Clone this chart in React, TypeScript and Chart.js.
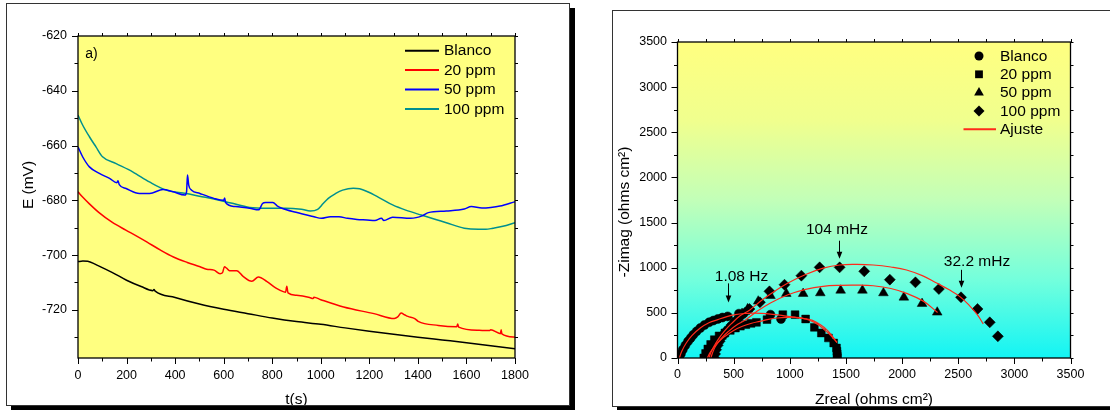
import React, { useEffect, useRef } from 'react';
import { Chart, registerables } from 'chart.js';

Chart.register(...registerables);

const FONT = "'Liberation Sans', Arial, Helvetica, sans-serif";

/* ---------------- a) open-circuit potential vs time ---------------- */
const timeTicks = [0, 200, 400, 600, 800, 1000, 1200, 1400, 1600, 1800];
const potentialTicks = [-720, -700, -680, -660, -640, -620];

const blancoT = [0, 20, 40, 70, 100, 140, 200, 260, 308, 313, 318, 400, 500, 600, 700, 800, 900, 1000, 1100, 1200, 1300, 1400, 1500, 1600, 1700, 1800];
const blancoE = [-702.4, -702.2, -702.3, -703.3, -704.6, -706.3, -709.2, -711.5, -713.0, -712.6, -713.2, -715.5, -717.9, -719.8, -721.4, -723.0, -724.3, -725.3, -726.6, -727.8, -728.9, -730.0, -731.0, -732.0, -733.1, -734.2];

const ppm20T = [0, 20, 47, 88, 140, 197, 240, 283, 340, 393, 450, 503, 530, 560, 585, 595, 603, 612, 624, 654, 680, 716, 743, 777, 814, 833, 855, 860, 865, 900, 954, 968, 972, 1000, 1094, 1219, 1303, 1317, 1331, 1345, 1359, 1387, 1401, 1484, 1560, 1564, 1568, 1652, 1694, 1700, 1740, 1743, 1746, 1800];
const ppm20E = [-676.9, -678.9, -681.3, -684.6, -688.0, -690.9, -693.0, -695.2, -698.2, -700.7, -702.7, -704.3, -705.2, -705.5, -706.8, -706.5, -704.3, -704.8, -705.7, -705.7, -707.8, -709.6, -708.0, -709.6, -712.0, -712.9, -713.6, -711.4, -713.8, -714.7, -715.5, -715.9, -715.4, -716.3, -719.0, -721.4, -723.2, -722.6, -721.2, -721.8, -722.4, -723.2, -724.2, -725.7, -726.2, -725.2, -726.3, -727.5, -727.6, -727.3, -728.7, -727.3, -728.8, -730.0];

const ppm50T = [0, 19, 47, 88, 130, 160, 165, 170, 198, 253, 295, 350, 392, 440, 447, 451, 456, 468, 502, 560, 600, 604, 608, 648, 707, 744, 760, 773, 803, 820, 840, 898, 972, 1002, 1040, 1075, 1110, 1149, 1190, 1223, 1250, 1260, 1296, 1370, 1420, 1443, 1517, 1591, 1620, 1664, 1700, 1738, 1800];
const ppm50E = [-660.5, -664.1, -667.8, -670.2, -672.0, -673.6, -672.9, -674.3, -675.7, -677.5, -677.5, -676.1, -676.9, -678.1, -677.0, -670.8, -674.5, -676.3, -677.5, -679.3, -680.0, -679.2, -680.8, -682.3, -682.9, -683.5, -681.2, -680.8, -680.8, -682.0, -682.9, -684.4, -686.0, -686.6, -686.0, -686.0, -686.6, -687.0, -687.2, -687.4, -686.6, -687.4, -686.2, -686.6, -685.6, -684.5, -683.9, -683.2, -682.3, -682.8, -682.6, -682.1, -680.5];

const ppm100T = [0, 19, 47, 74, 101, 157, 225, 294, 363, 445, 500, 560, 630, 707, 780, 854, 920, 957, 987, 1010, 1031, 1060, 1090, 1134, 1160, 1193, 1240, 1296, 1350, 1414, 1470, 1517, 1591, 1650, 1680, 1709, 1750, 1800];
const ppm100E = [-648.9, -652.5, -656.8, -660.5, -664.1, -666.6, -669.6, -673.3, -676.3, -677.5, -678.5, -679.5, -681.0, -682.6, -682.9, -682.9, -683.3, -683.9, -683.3, -681.2, -679.3, -677.6, -676.3, -675.6, -675.8, -676.9, -679.0, -681.7, -683.6, -685.4, -686.9, -688.2, -690.2, -690.6, -690.6, -690.2, -689.5, -688.2];

const potentialSeries = [
  { label: 'Blanco', t: blancoT, e: blancoE, color: '#000000' },
  { label: '20 ppm', t: ppm20T, e: ppm20E, color: '#ff0000' },
  { label: '50 ppm', t: ppm50T, e: ppm50E, color: '#0000ff' },
  { label: '100 ppm', t: ppm100T, e: ppm100E, color: '#008f8f' },
];

/* ---------------- Nyquist diagram ---------------- */
const zTicks = [0, 500, 1000, 1500, 2000, 2500, 3000, 3500];

// measured impedance, [Zreal, -Zimag] in ohms cm2
const blancoZ = [[16, 0], [30, 45], [47, 92], [70, 140], [94, 185], [118, 222], [141, 258], [170, 295], [203, 332], [240, 365], [281, 395], [320, 415], [359, 432], [400, 448], [447, 461], [547, 491], [828, 480], [922, 432]];
const ppm20Z = [[234, 0], [250, 50], [270, 100], [295, 150], [328, 203], [370, 245], [422, 277], [470, 305], [516, 332], [560, 352], [609, 369], [655, 383], [703, 395], [797, 425], [938, 480], [1047, 480], [1141, 432], [1219, 340], [1281, 277], [1344, 222], [1391, 166], [1416, 111], [1420, 75], [1422, 45], [1423, 18], [1423, 0]];
const ppm50Z = [[297, 0], [305, 30], [312, 55], [325, 100], [344, 148], [365, 195], [391, 240], [420, 287], [453, 332], [490, 390], [531, 443], [575, 492], [625, 543], [719, 628], [828, 690], [969, 713], [1119, 713], [1272, 720], [1453, 749], [1647, 749], [1834, 720], [2016, 672], [2178, 602], [2313, 506]];
const ppm100Z = [[328, 0], [335, 45], [344, 92], [358, 140], [375, 185], [397, 232], [422, 277], [452, 323], [484, 369], [520, 415], [562, 461], [600, 500], [641, 543], [734, 617], [819, 738], [953, 812], [1103, 912], [1266, 1004], [1444, 1004], [1663, 960], [1891, 868], [2119, 838], [2328, 764], [2525, 672], [2672, 543], [2781, 395], [2853, 240]];

// equivalent-circuit fits
const blancoFit = [[16, 0], [40, 80], [78, 166], [130, 250], [203, 332], [280, 390], [359, 425], [440, 458], [516, 480], [600, 493], [672, 498], [750, 495], [828, 487], [910, 475], [984, 461], [1060, 448], [1141, 432], [1210, 400], [1266, 358], [1320, 300], [1359, 258], [1390, 215], [1420, 175]];
const ppm20Fit = [[266, 0], [290, 60], [330, 130], [380, 195], [422, 240], [500, 305], [578, 351], [660, 385], [734, 406], [810, 428], [891, 443], [970, 450], [1047, 450], [1125, 437], [1203, 417], [1270, 370], [1328, 314], [1370, 255], [1400, 205], [1420, 170]];
const ppm50Fit = [[297, 0], [310, 50], [330, 110], [360, 170], [400, 230], [450, 290], [520, 360], [609, 425], [700, 510], [828, 609], [984, 700], [1141, 760], [1297, 794], [1445, 805], [1600, 807], [1743, 800], [1900, 770], [2040, 716], [2189, 630], [2316, 505]];
const ppm100Fit = [[280, 0], [300, 70], [330, 140], [370, 220], [420, 300], [480, 380], [560, 470], [641, 530], [720, 610], [828, 710], [984, 830], [1141, 925], [1297, 995], [1445, 1030], [1600, 1036], [1743, 1030], [1900, 1008], [2040, 975], [2180, 912], [2308, 830], [2420, 755], [2515, 680], [2600, 580], [2670, 480], [2723, 376]];

const nyquistSeries = [
  { label: 'Blanco', points: blancoZ, marker: 'circle', radius: 4.5 },
  { label: '20 ppm', points: ppm20Z, marker: 'rect', radius: 5.5 },
  { label: '50 ppm', points: ppm50Z, marker: 'triangle', radius: 5.6 },
  { label: '100 ppm', points: ppm100Z, marker: 'rectRot', radius: 5.5 },
];
const fitSeries = [blancoFit, ppm20Fit, ppm50Fit, ppm100Fit];
const fitLabel = 'Ajuste';
const fitColor = '#ff2a1a';

const frequencyNotes = [
  { text: '1.08 Hz', zr: 446, zi: 461 },
  { text: '104 mHz', zr: 1441, zi: 1000 },
  { text: '32.2 mHz', zr: 2525, zi: 672 },
];
// label offset from arrow, gap between arrow tip and marker, arrow length, text lift
const noteLayout = [
  { dx: 13, gap: 14, len: 19, lift: 7 },
  { dx: -2.5, gap: 9, len: 18, lift: 11 },
  { dx: 15.5, gap: 9.5, len: 18, lift: 8.5 },
];

/* ---------------- drawing helpers ---------------- */
type Area = { left: number; right: number; top: number; bottom: number };

function drawText(ctx: CanvasRenderingContext2D, s: string, x: number, y: number, size: number, align: CanvasTextAlign = 'center', rot = 0) {
  ctx.save();
  ctx.translate(x, y);
  if (rot) ctx.rotate(rot);
  ctx.font = `${size}px ${FONT}`;
  ctx.fillStyle = '#000';
  ctx.textAlign = align;
  ctx.textBaseline = 'middle';
  ctx.fillText(s, 0, 0);
  ctx.restore();
}

function drawMarker(ctx: CanvasRenderingContext2D, style: string, x: number, y: number, r: number) {
  ctx.beginPath();
  if (style === 'circle') {
    ctx.arc(x, y, r, 0, Math.PI * 2);
  } else if (style === 'rect') {
    const s = r * Math.SQRT1_2;
    ctx.rect(x - s, y - s, 2 * s, 2 * s);
  } else if (style === 'triangle') {
    const h = r * 0.866;
    ctx.moveTo(x, y - r);
    ctx.lineTo(x + h, y + r / 2);
    ctx.lineTo(x - h, y + r / 2);
    ctx.closePath();
  } else {
    ctx.moveTo(x, y - r);
    ctx.lineTo(x + r, y);
    ctx.lineTo(x, y + r);
    ctx.lineTo(x - r, y);
    ctx.closePath();
  }
  ctx.fillStyle = '#000';
  ctx.fill();
}

interface FrameSpec {
  xMajor: number;
  xMinor: number;
  yMajor: number;
  yMinor: number;
  paint: (ctx: CanvasRenderingContext2D, a: Area) => string | CanvasGradient;
  decorate: (chart: any) => void;
}

// plot background, boxed frame with major/minor ticks on all four sides, extra text
function framePlugin(f: FrameSpec) {
  const isMajor = (v: number, step: number) => Math.abs(v / step - Math.round(v / step)) < 1e-6;
  return {
    id: 'originFrame',
    beforeDraw(chart: any) {
      const { ctx, chartArea: a } = chart;
      ctx.save();
      ctx.fillStyle = f.paint(ctx, a);
      ctx.fillRect(a.left, a.top, a.right - a.left, a.bottom - a.top);
      ctx.restore();
    },
    afterDraw(chart: any) {
      const { ctx, chartArea: a, scales } = chart;
      const xs = scales.x;
      const ys = scales.y;
      ctx.save();
      ctx.strokeStyle = '#000';
      ctx.lineWidth = 1;
      ctx.beginPath();
      const x0 = Math.ceil(xs.min / f.xMinor - 1e-9) * f.xMinor;
      for (let v = x0; v <= xs.max + 1e-9; v += f.xMinor) {
        const px = Math.round(xs.getPixelForValue(v)) + 0.5;
        const major = isMajor(v, f.xMajor);
        ctx.moveTo(px, a.bottom);
        ctx.lineTo(px, a.bottom + (major ? 6 : 3.5));
        ctx.moveTo(px, a.top);
        ctx.lineTo(px, a.top - 3);
      }
      const y0 = Math.ceil(ys.min / f.yMinor - 1e-9) * f.yMinor;
      for (let v = y0; v <= ys.max + 1e-9; v += f.yMinor) {
        const py = Math.round(ys.getPixelForValue(v)) + 0.5;
        const major = isMajor(v, f.yMajor);
        ctx.moveTo(a.left, py);
        ctx.lineTo(a.left - (major ? 6 : 3.5), py);
        ctx.moveTo(a.right, py);
        ctx.lineTo(a.right + 3, py);
      }
      ctx.stroke();
      ctx.lineWidth = 1.3;
      ctx.strokeRect(a.left, a.top, a.right - a.left, a.bottom - a.top);
      ctx.restore();
      f.decorate(chart);
    },
  };
}

const tickFont = { family: FONT, size: 12.5 };
const plainLabel = (v: number | string) => String(v);

function fixedTicks(values: number[]) {
  return (scale: any) => {
    scale.ticks = values.map((value) => ({ value }));
  };
}

/* ---------------- charts ---------------- */
function PotentialChart() {
  const ref = useRef<HTMLCanvasElement>(null);
  useEffect(() => {
    const legend = { x0: 405, x1: 439, textX: 444, y0: 50.7, dy: 19.4 };
    const chart = new Chart(ref.current as HTMLCanvasElement, {
      type: 'scatter',
      data: {
        datasets: potentialSeries.map((s) => ({
          label: s.label,
          data: s.t.map((t, i) => ({ x: t, y: s.e[i] })),
          showLine: true,
          borderColor: s.color,
          backgroundColor: s.color,
          borderWidth: 1.5,
          pointRadius: 0,
          cubicInterpolationMode: 'monotone' as const,
        })),
      },
      options: {
        responsive: false,
        animation: false,
        devicePixelRatio: 1,
        events: [],
        layout: { padding: { top: 36, right: 60, left: 0, bottom: 0 } },
        plugins: { legend: { display: false }, tooltip: { enabled: false } },
        scales: {
          x: {
            type: 'linear',
            min: 0,
            max: 1800,
            grid: { display: false, drawTicks: false },
            border: { display: false },
            ticks: { padding: 10, font: tickFont, color: '#000', maxRotation: 0, autoSkip: false, callback: plainLabel },
            afterBuildTicks: fixedTicks(timeTicks),
            afterFit: (s: any) => { s.height = 52; },
          },
          y: {
            type: 'linear',
            min: -737.6,
            max: -620,
            grid: { display: false, drawTicks: false },
            border: { display: false },
            ticks: { padding: 11, font: tickFont, color: '#000', autoSkip: false, callback: plainLabel },
            afterBuildTicks: fixedTicks(potentialTicks),
            afterFit: (s: any) => { s.width = 78; },
          },
        },
      },
      plugins: [
        framePlugin({
          xMajor: 200,
          xMinor: 100,
          yMajor: 20,
          yMinor: 10,
          paint: () => '#ffff80',
          decorate: (c: any) => {
            const ctx: CanvasRenderingContext2D = c.ctx;
            drawText(ctx, 'E (mV)', 28.5, 185, 15.5, 'center', -Math.PI / 2);
            drawText(ctx, 't(s)', 296.5, 400, 15.5);
            drawText(ctx, 'a)', 91.5, 54, 14);
            potentialSeries.forEach((s, i) => {
              const y = legend.y0 + i * legend.dy;
              ctx.save();
              ctx.strokeStyle = s.color;
              ctx.lineWidth = 2;
              ctx.beginPath();
              ctx.moveTo(legend.x0, y);
              ctx.lineTo(legend.x1, y);
              ctx.stroke();
              ctx.restore();
              drawText(ctx, s.label, legend.textX, y + 0.5, 15.5, 'left');
            });
          },
        }),
      ],
    } as any);
    return () => chart.destroy();
  }, []);
  return (
    <canvas
      ref={ref}
      width={575}
      height={410}
      style={{ position: 'absolute', left: 0, top: 0, width: 575, height: 410, display: 'block' }}
    />
  );
}

function NyquistChart() {
  const ref = useRef<HTMLCanvasElement>(null);
  useEffect(() => {
    const legend = { markerX: 404, textX: 425, lineX0: 388.5, lineX1: 421, y0: 56, dy: 18.3 };
    const markerSets = nyquistSeries.map((s) => ({
      label: s.label,
      data: s.points.map(([x, y]) => ({ x, y })),
      showLine: false,
      pointStyle: s.marker,
      pointRadius: s.radius,
      pointBackgroundColor: '#000',
      pointBorderColor: '#000',
      pointBorderWidth: 0.5,
      order: 2,
    }));
    const fitSets = fitSeries.map((pts) => ({
      label: fitLabel,
      data: pts.map(([x, y]) => ({ x, y })),
      showLine: true,
      borderColor: fitColor,
      borderWidth: 1.2,
      pointRadius: 0,
      tension: 0.4,
      order: 1,
    }));
    const chart = new Chart(ref.current as HTMLCanvasElement, {
      type: 'scatter',
      data: { datasets: [...markerSets, ...fitSets] },
      options: {
        responsive: false,
        animation: false,
        devicePixelRatio: 1,
        events: [],
        layout: { padding: { top: 42, right: 39.5, left: 0, bottom: 0 } },
        plugins: { legend: { display: false }, tooltip: { enabled: false } },
        scales: {
          x: {
            type: 'linear',
            min: 0,
            max: 3500,
            grid: { display: false, drawTicks: false },
            border: { display: false },
            ticks: { padding: 9.5, font: tickFont, color: '#000', maxRotation: 0, autoSkip: false, callback: plainLabel },
            afterBuildTicks: fixedTicks(zTicks),
            afterFit: (s: any) => { s.height = 52; },
          },
          y: {
            type: 'linear',
            min: 0,
            max: 3500,
            grid: { display: false, drawTicks: false },
            border: { display: false },
            ticks: { padding: 10.5, font: tickFont, color: '#000', autoSkip: false, callback: plainLabel },
            afterBuildTicks: fixedTicks(zTicks),
            afterFit: (s: any) => { s.width = 102.5; },
          },
        },
      },
      plugins: [
        framePlugin({
          xMajor: 500,
          xMinor: 250,
          yMajor: 500,
          yMinor: 250,
          paint: (ctx, a) => {
            const g = ctx.createLinearGradient(0, a.top, 0, a.bottom);
            g.addColorStop(0, '#ffff80');
            g.addColorStop(0.25, '#f0ff8e');
            g.addColorStop(0.5, '#c2ffb8');
            g.addColorStop(0.75, '#74ffdc');
            g.addColorStop(1, '#12f4f4');
            return g;
          },
          decorate: (c: any) => {
            const ctx: CanvasRenderingContext2D = c.ctx;
            const xs = c.scales.x;
            const ys = c.scales.y;
            drawText(ctx, '-Zimag (ohms cm²)', 50, 212, 15.5, 'center', -Math.PI / 2);
            drawText(ctx, 'Zreal (ohms cm²)', 299, 400, 15.5);
            nyquistSeries.forEach((s, i) => {
              const y = legend.y0 + i * legend.dy;
              drawMarker(ctx, s.marker, legend.markerX, y, s.radius);
              drawText(ctx, s.label, legend.textX, y + 0.5, 15.5, 'left');
            });
            const fy = legend.y0 + nyquistSeries.length * legend.dy;
            ctx.save();
            ctx.strokeStyle = fitColor;
            ctx.lineWidth = 2;
            ctx.beginPath();
            ctx.moveTo(legend.lineX0, fy);
            ctx.lineTo(legend.lineX1, fy);
            ctx.stroke();
            ctx.restore();
            drawText(ctx, fitLabel, legend.textX, fy + 0.5, 15.5, 'left');

            frequencyNotes.forEach((n, i) => {
              const L = noteLayout[i];
              const ax = Math.round(xs.getPixelForValue(n.zr)) + 0.5;
              const tip = ys.getPixelForValue(n.zi) - L.gap;
              const top = tip - L.len;
              ctx.save();
              ctx.strokeStyle = '#000';
              ctx.fillStyle = '#000';
              ctx.lineWidth = 1;
              ctx.beginPath();
              ctx.moveTo(ax, top);
              ctx.lineTo(ax, tip - 5);
              ctx.stroke();
              ctx.beginPath();
              ctx.moveTo(ax, tip);
              ctx.lineTo(ax - 2.8, tip - 7);
              ctx.lineTo(ax + 2.8, tip - 7);
              ctx.closePath();
              ctx.fill();
              ctx.restore();
              drawText(ctx, n.text, ax + L.dx, top - L.lift, 15.5);
            });
          },
        }),
      ],
    } as any);
    return () => chart.destroy();
  }, []);
  return (
    <canvas
      ref={ref}
      width={535}
      height={410}
      style={{ position: 'absolute', left: 575, top: 0, width: 535, height: 410, display: 'block' }}
    />
  );
}

const panelBorder = '1px solid #333';

export default function App() {
  return (
    <div
      style={{
        position: 'fixed',
        left: 0,
        top: 0,
        width: 1110,
        height: 410,
        overflow: 'hidden',
        background: '#ffffff',
      }}
    >
      <PotentialChart />
      <NyquistChart />
      {/* panel frames with drop shadows */}
      <div style={{ position: 'absolute', left: 6, top: 3, width: 564, height: 403, border: panelBorder, boxSizing: 'border-box', pointerEvents: 'none' }} />
      <div style={{ position: 'absolute', left: 570, top: 8, width: 5, height: 402, background: '#000' }} />
      <div style={{ position: 'absolute', left: 11, top: 406, width: 564, height: 4, background: '#000' }} />
      <div style={{ position: 'absolute', left: 612, top: 10, width: 520, height: 397, border: panelBorder, boxSizing: 'border-box', pointerEvents: 'none' }} />
      <div style={{ position: 'absolute', left: 617, top: 407, width: 500, height: 3, background: '#000' }} />
    </div>
  );
}
